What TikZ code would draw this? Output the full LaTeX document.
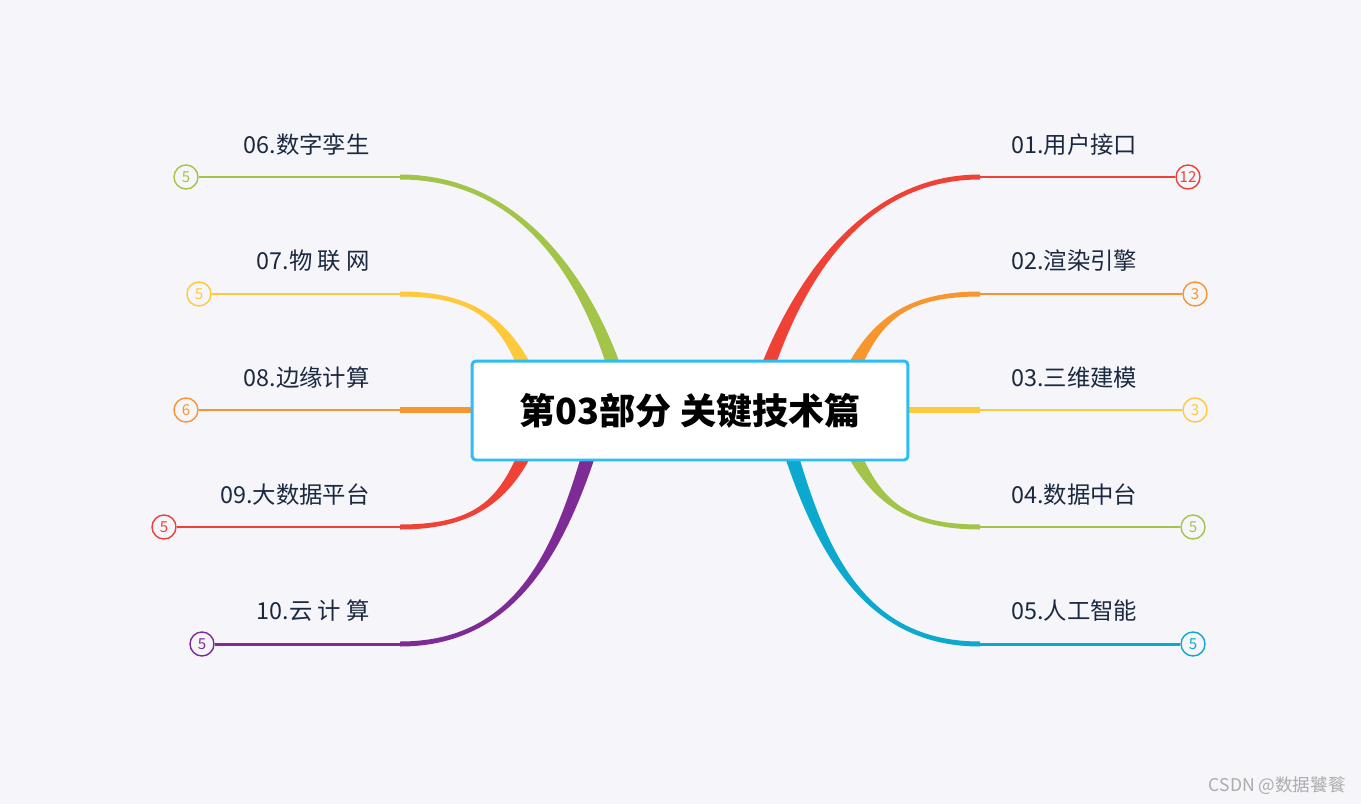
\documentclass[tikz,border=0pt]{standalone}
\usepackage{fontspec}
\setmainfont{Noto Sans CJK SC}
\usetikzlibrary{calc}
\definecolor{bgpaper}{HTML}{F5F5FA}
\definecolor{hubblue}{HTML}{2DBDF5}
\definecolor{inkdark}{HTML}{1B2940}
\definecolor{brred}{HTML}{EF4136}
\definecolor{brorange}{HTML}{F7962E}
\definecolor{bryellow}{HTML}{FFC93C}
\definecolor{brgreen}{HTML}{A2C449}
\definecolor{brcyan}{HTML}{0AA9CD}
\definecolor{brpurple}{HTML}{7F2B96}

% tapered branch: colour, start, control 1, control 2, end, side
\newcommand{\limb}[6]{%
  \fill[#1] ($(#2)+(-7,0)$) .. controls ($(#3)+(-5,0)$) and ($(#4)+(0,-2.5*#6)$) .. ($(#5)+(0,-2.5*#6)$)
    -- ($(#5)+(0,2.5*#6)$) .. controls ($(#4)+(0,2.5*#6)$) and ($(#3)+(5,0)$) .. ($(#2)+(7,0)$) -- cycle;}

\begin{document}
\begin{tikzpicture}[x=0.02cm,y=-0.02cm,
    hub/.style={draw=hubblue,line width=1.7pt,fill=white,rounded corners=0.08cm,
      minimum width=8.72cm,minimum height=1.98cm,font=\fontsize{20.5}{20.5}\selectfont\bfseries},
    leaf/.style={text=inkdark,inner sep=0pt,font=\fontsize{13.3}{13.3}\selectfont},
    badge/.style={circle,draw=#1,text=#1,fill=bgpaper,line width=0.8pt,
      minimum size=0.48cm,inner sep=0pt,font=\fontsize{8.6}{8.6}\selectfont},
    twig/.style={#1,line width=1.7pt},
    stub/.style={#1,line width=3.4pt}]
    \fill[bgpaper] (0,0) rectangle (1361,804);
    \useasboundingbox (0,0) rectangle (1361,804);

    % elbows
    \coordinate (k01) at (980,177); \coordinate (k02) at (980,294);
    \coordinate (k03) at (980,410); \coordinate (k04) at (980,527);
    \coordinate (k05) at (980,644); \coordinate (k06) at (400,177);
    \coordinate (k07) at (400,294); \coordinate (k08) at (400,410);
    \coordinate (k09) at (400,527); \coordinate (k10) at (400,644);

    % right side
    \limb{brred}{770,361}{805,270}{870,177}{k01}{1}
    \limb{brorange}{857,361}{880,318}{910,294}{k02}{1}
    \draw[stub=bryellow] (908,410) -- (k03);
    \limb{brgreen}{857,460}{880,503}{910,527}{k04}{-1}
    \limb{brcyan}{793,460}{825,560}{870,644}{k05}{-1}
    % left side
    \limb{brgreen}{612,361}{580,270}{515,177}{k06}{-1}
    \limb{bryellow}{522,361}{500,318}{470,294}{k07}{-1}
    \draw[stub=brorange] (472,410) -- (k08);
    \limb{brred}{522,460}{500,503}{470,527}{k09}{1}
    \limb{brpurple}{587,460}{555,560}{510,644}{k10}{1}

    \node[hub] (hub) at (690,410.5) {第03部分 关键技术篇};

    \node[badge=brred] (n01) at (1188,177) {12};
    \node[badge=brorange] (n02) at (1195,294) {3};
    \node[badge=bryellow] (n03) at (1195,410) {3};
    \node[badge=brgreen] (n04) at (1193,527) {5};
    \node[badge=brcyan] (n05) at (1193,644) {5};
    \node[badge=brgreen] (n06) at (186,177) {5};
    \node[badge=bryellow] (n07) at (199,294) {5};
    \node[badge=brorange] (n08) at (186,410) {6};
    \node[badge=brred] (n09) at (164,527) {5};
    \node[badge=brpurple] (n10) at (202,644) {5};

    \draw[twig=brred] (k01) -- (n01);
    \draw[twig=brorange] (k02) -- (n02);
    \draw[twig=bryellow] (k03) -- (n03);
    \draw[twig=brgreen] (k04) -- (n04);
    \draw[twig=brcyan] (k05) -- (n05);
    \draw[twig=brgreen] (k06) -- (n06);
    \draw[twig=bryellow] (k07) -- (n07);
    \draw[twig=brorange] (k08) -- (n08);
    \draw[twig=brred] (k09) -- (n09);
    \draw[twig=brpurple] (k10) -- (n10);

    \node[leaf,anchor=west] (t01) at (1011,145) {01.用户接口};
    \node[leaf,anchor=west] (t02) at (1011,261) {02.渲染引擎};
    \node[leaf,anchor=west] (t03) at (1011,378) {03.三维建模};
    \node[leaf,anchor=west] (t04) at (1011,495) {04.数据中台};
    \node[leaf,anchor=west] (t05) at (1011,611) {05.人工智能};
    \node[leaf,anchor=east] (t06) at (370,145) {06.数字孪生};
    \node[leaf,anchor=east] (t07) at (370,261) {07.物 联 网};
    \node[leaf,anchor=east] (t08) at (370,378) {08.边缘计算};
    \node[leaf,anchor=east] (t09) at (370,495) {09.大数据平台};
    \node[leaf,anchor=east] (t10) at (370,611) {10.云 计 算};

    \node[text=gray!65,anchor=east,inner sep=0pt,font=\fontsize{10}{10}\selectfont] (mark) at (1346,786) {CSDN @数据饕餮};
\end{tikzpicture}
\end{document}
